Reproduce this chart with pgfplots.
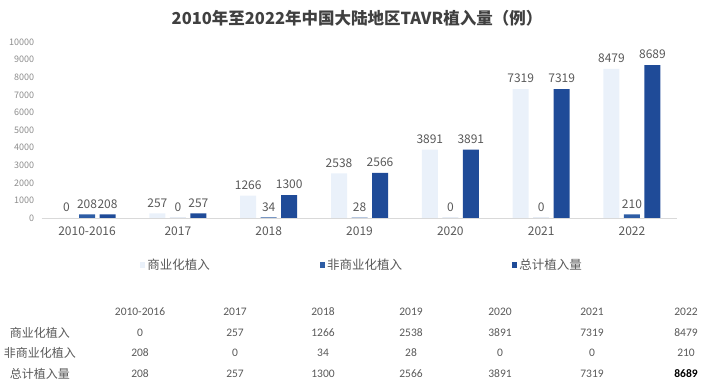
\documentclass[border=0pt]{standalone}
\usepackage{fontspec}
\setmainfont{Carlito}
\newfontfamily\cjk{Noto Sans CJK SC}
\usepackage{pgfplots}
\pgfplotsset{compat=1.18}
\definecolor{cLight}{HTML}{EAF1FA}
\definecolor{cMid}{HTML}{2E5DA5}
\definecolor{cDark}{HTML}{1F4B98}
\definecolor{txt}{HTML}{595959}
\definecolor{tickc}{HTML}{8C8C8C}
\definecolor{ttl}{HTML}{404040}
\definecolor{gridc}{HTML}{D9D9D9}
\pgfplotsset{sqleg/.style={legend image code/.code={\fill[##1] (0pt,-2.6pt) rectangle (5.2pt,2.6pt);}}}
\begin{document}
\begin{tikzpicture}[x=1pt,y=1pt]
\path[use as bounding box] (0,0) rectangle (712,385);
\node[font=\cjk\bfseries\fontsize{16.5}{18}\selectfont, text=ttl] at (357,367) {2010年至2022年中国大陆地区TAVR植入量（例）};
\begin{axis}[
  at={(41.6pt,167pt)}, anchor=south west,
  scale only axis, width=635.8pt, height=176pt,
  xmin=-0.5, xmax=6.5, ymin=0, ymax=10000,
  ybar=4.5pt, bar width=16pt,
  xtick={0,...,6},
  xticklabels={2010-2016,2017,2018,2019,2020,2021,2022},
  ytick={0,1000,...,10000},
  scaled y ticks=false,
  /pgf/number format/.cd, 1000 sep={}, assume math mode=true, /pgfplots/.cd,
  axis x line*=bottom, axis y line*=left,
  y axis line style={draw=none},
  x axis line style={draw=gridc, line width=0.8pt},
  major tick length=0pt,
  yticklabel style={font=\cjk\fontsize{9}{10}\selectfont, text=tickc, xshift=-4pt},
  xticklabel style={font=\cjk\fontsize{12}{13}\selectfont, text=txt, yshift=-5pt},
  nodes near coords,
  every node near coord/.append style={font=\cjk\fontsize{12}{13}\selectfont, text=txt, yshift=2.5pt},
  legend columns=-1,
  legend style={draw=none, fill=none, font=\cjk\fontsize{12.5}{13}\selectfont, text=txt,
    at={(0.1548,-0.267)}, anchor=west, inner sep=0pt,
    /tikz/every even column/.append style={column sep=108pt}},
]
\addplot[fill=cLight, draw=none, sqleg] coordinates {(0,0) (1,257) (2,1266) (3,2538) (4,3891) (5,7319) (6,8479)};
\addplot[fill=cMid, draw=none, sqleg] coordinates {(0,208) (1,0) (2,34) (3,28) (4,0) (5,0) (6,210)};
\addplot[fill=cDark, draw=none, sqleg] coordinates {(0,208) (1,257) (2,1300) (3,2566) (4,3891) (5,7319) (6,8689)};
\legend{商业化植入,非商业化植入,总计植入量}
\end{axis}
% table
\begin{scope}[every node/.style={font=\fontsize{11.5}{12}\selectfont, text=txt}]
\foreach \x/\h/\a/\b/\c in {140/2010-2016/0/208/208, 235/2017/257/0/257, 323/2018/1266/34/1300, 411/2019/2538/28/2566, 500/2020/3891/0/3891, 592/2021/7319/0/7319}{
  \node at (\x,73) {\h};
  \node at (\x,52) {\a};
  \node at (\x,32) {\b};
  \node at (\x,11) {\c};
}
\node at (686,73) {2022};
\node at (686,52) {8479};
\node at (686,32) {210};
\node[text=black, font=\bfseries\fontsize{11.5}{12}\selectfont] at (686,11) {8689};
\end{scope}
\begin{scope}[every node/.style={font=\cjk\fontsize{12}{13}\selectfont, text=txt, anchor=east, inner sep=0pt}]
\node at (70,52) {商业化植入};
\node at (76,32) {非商业化植入};
\node at (70,11) {总计植入量};
\end{scope}
\end{tikzpicture}
\end{document}
